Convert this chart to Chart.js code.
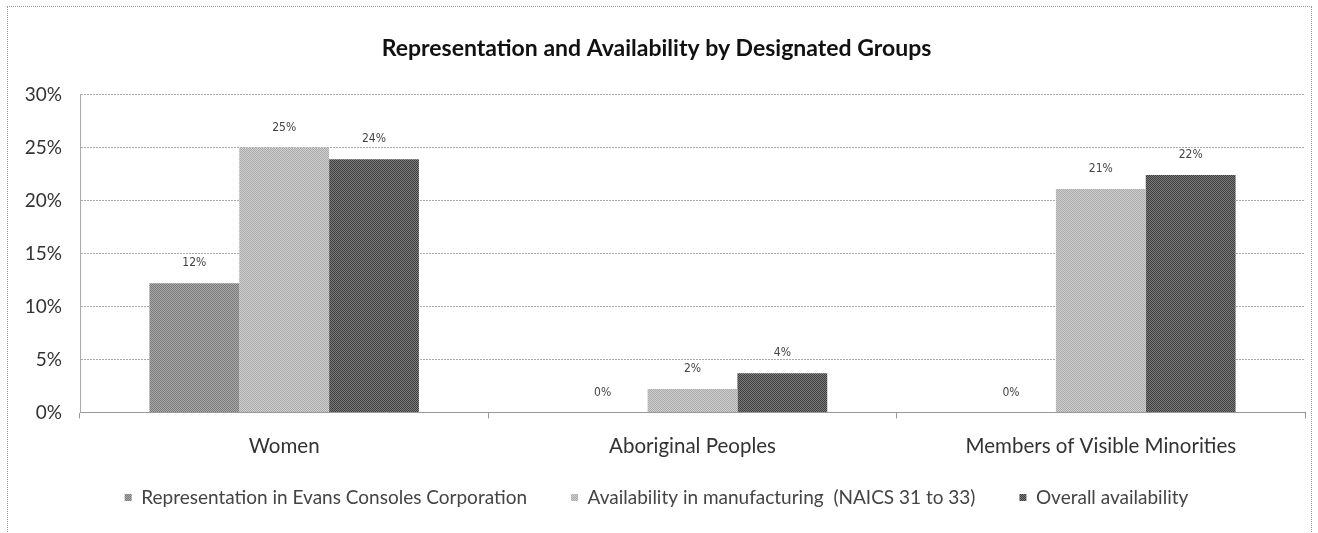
<!DOCTYPE html>
<html>
<head>
<meta charset="utf-8">
<script src="https://cdn.jsdelivr.net/npm/chart.js@4.4.1/dist/chart.umd.min.js"></script>
<style>
    html, body { margin: 0; padding: 0; background: #fff; overflow: hidden; }
    #frame {
        position: absolute; left: 7px; top: 6px; width: 1305px; height: 600px;
        border: 1px dotted #999; box-sizing: border-box;
    }
    #wrap { position: absolute; left: 0; top: 0; width: 1303px; height: 541px; }
</style>
</head>
<body>
<div id="frame"><div id="wrap"><canvas id="chart"></canvas></div></div>
<script>
// chart data
const groups = ['Women', 'Aboriginal Peoples', 'Members of Visible Minorities'];
const seriesNames = [
    'Representation in Evans Consoles Corporation',
    'Availability in manufacturing  (NAICS 31 to 33)',
    'Overall availability'
];
const representation = [12.2, 0, 0];
const manufacturing = [25.0, 2.2, 21.1];
const overall = [23.9, 3.7, 22.4];
const shownLabels = [['12%', '0%', '0%'], ['25%', '2%', '21%'], ['24%', '4%', '22%']];

// dithered fills like the scanned print
function dither(a, b) {
    const c = document.createElement('canvas');
    c.width = 2; c.height = 2;
    const g = c.getContext('2d');
    g.fillStyle = a; g.fillRect(0, 0, 2, 2);
    g.fillStyle = b; g.fillRect(0, 0, 1, 1); g.fillRect(1, 1, 1, 1);
    return g.createPattern(c, 'repeat');
}
const fills = [dither('#7a7a7a', '#a8a8a8'), dither('#a9a9a9', '#cfcfcf'), dither('#3f3f3f', '#7a7a7a')];

const valueLabels = {
    id: 'valueLabels',
    afterDatasetsDraw(chart) {
        const ctx = chart.ctx;
        ctx.save();
        ctx.font = '12px "Liberation Sans Narrow", "DejaVu Sans Condensed", sans-serif';
        ctx.fillStyle = '#444';
        ctx.textAlign = 'center';
        ctx.textBaseline = 'bottom';
        chart.data.datasets.forEach((ds, i) => {
            chart.getDatasetMeta(i).data.forEach((bar, j) => {
                ctx.fillText(shownLabels[i][j], bar.x, bar.y - 14);
            });
        });
        ctx.restore();
    }
};

// wide item spacing in the legend, but keep it close to the axis labels
const legendNudge = {
    id: 'legendNudge',
    afterLayout(chart) {
        const l = chart.legend;
        if (!l) return;
        l.top -= 31; l.bottom -= 31;
    }
};

Chart.defaults.font.family = 'Lato, "Open Sans", sans-serif';
Chart.defaults.color = '#333';

new Chart(document.getElementById('chart'), {
    type: 'bar',
    data: {
        labels: groups,
        datasets: [representation, manufacturing, overall].map((d, i) => ({
            label: seriesNames[i],
            data: d,
            backgroundColor: fills[i],
            borderWidth: 0,
            barPercentage: 1,
            categoryPercentage: 0.66
        }))
    },
    options: {
        responsive: true, maintainAspectRatio: false, animation: false,
        layout: { padding: { left: 0, right: 6, top: 0, bottom: 0 } },
        plugins: {
            title: {
                display: true, text: 'Representation and Availability by Designated Groups',
                font: { size: 23, weight: 'bold' }, color: '#111',
                padding: { top: 28, bottom: 32 }
            },
            legend: {
                position: 'bottom',
                labels: {
                    boxWidth: 7, boxHeight: 7, padding: 44,
                    font: { size: 19 }, color: '#444'
                }
            },
            tooltip: { enabled: false }
        },
        scales: {
            x: {
                grid: { display: true, drawOnChartArea: false, offset: true, tickLength: 6, color: '#999' },
                border: { color: '#999', dash: [2, 1] },
                ticks: { font: { size: 20.5 }, color: '#333', padding: 16 }
            },
            y: {
                min: 0, max: 30,
                afterFit(s) { s.width = 72; },
                grid: { color: '#aaa', tickLength: 0 },
                border: { color: '#aaa', dash: [2, 1] },
                ticks: {
                    stepSize: 5, font: { size: 19 }, color: '#333', padding: 18,
                    callback: v => v + '%'
                }
            }
        }
    },
    plugins: [valueLabels, legendNudge]
});
</script>
</body>
</html>
